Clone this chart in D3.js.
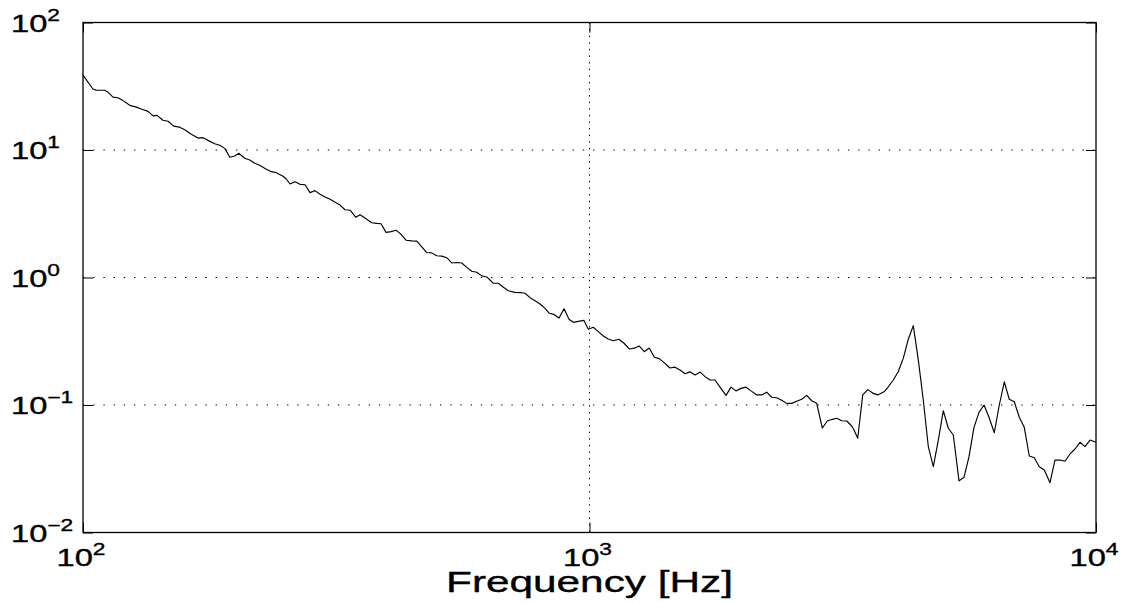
<!DOCTYPE html>
<html>
<head>
<meta charset="utf-8">
<script src="https://cdn.jsdelivr.net/npm/d3@7"></script>
<style>
  body { margin: 0; background: #fff; }
  svg { display: block; }
  text { font-family: "Liberation Sans", Arial, Helvetica, sans-serif; fill: #000; stroke: #000; stroke-width: 0.35; }
</style>
</head>
<body>
<svg id="chart" width="1126" height="604"></svg>
<script>
// Spectrum samples: frequency in Hz and magnitude
const frequency = [
  100, 104.6, 106.2, 110.4, 112.0, 114.6, 117.2, 119.9, 123.7, 127.4,
  130.3, 134.4, 137.5, 140.0, 143.8, 147.2, 151.0, 155.2, 158.8, 163.6,
  168.7, 172.5, 176.5, 182.0, 186.2, 190.5, 194.9, 199.3, 203.2, 208.5,
  213.4, 218.3, 223.3, 230.1, 235.4, 240.8, 248.3, 252.0, 256.3,
  262.2, 268.2, 274.4, 280.7, 287.1, 293.8, 300.6, 307.5, 314.6, 321.7,
  329.1, 336.7, 345.5, 352.3, 360.4, 371.5, 380.1, 387.6, 396.5, 405.6,
  415.0, 422.6, 434.3, 445.7, 456.0, 466.5, 477.2, 488.2, 499.4, 510.9,
  522.6, 534.6, 547.0, 559.5, 572.4, 585.5, 598.9, 612.7, 626.8, 645.7,
  660.6,
  676.0, 691.5, 712.9, 734.9, 746.0, 763.2, 780.7, 798.7, 817.0, 833.2,
  852.3, 870.7, 890.7, 911.2, 929.2, 950.3, 975.3, 994.5, 1017, 1041,
  1065, 1089, 1114, 1143, 1170, 1198, 1226, 1254, 1283, 1312,
  1343, 1373, 1409, 1442, 1475, 1509, 1544, 1579, 1615, 1653,
  1691, 1729, 1769, 1810, 1860, 1903, 1946, 1991, 2037, 2084,
  2139, 2188, 2238, 2290, 2342, 2396, 2451, 2507, 2565, 2624,
  2684, 2746, 2809, 2882, 2948, 3016, 3077, 3148, 3220, 3294,
  3329, 3385, 3463, 3543, 3624, 3707,
  3815, 3890, 3980, 4071, 4165, 4260, 4358, 4459, 4561, 4666,
  4773, 4883, 4995, 5110, 5227, 5365, 5488, 5614, 5743, 5875,
  6010, 6148, 6298, 6443, 6591, 6742, 6897, 7056, 7218, 7384,
  7554, 7727, 7905, 8113, 8299, 8490, 8685, 8885, 9089, 9298,
  9512, 9731, 10000
];

const magnitude = [
  38.7, 30.1, 29.5, 29.4, 28.4, 26.0, 25.7, 24.4, 22.4, 21.7,
  21.0, 20.1, 18.5, 18.7, 17.1, 16.8, 15.4, 15.1, 14.4, 13.3,
  12.4, 12.5, 11.9, 11.2, 10.9, 10.3, 8.77, 8.97, 9.42, 8.61,
  8.35, 7.87, 7.59, 7.06, 6.76, 6.64, 6.22, 5.92, 5.41,
  5.64, 5.38, 5.34, 4.63, 4.80, 4.49, 4.28, 4.11, 3.89, 3.70,
  3.40, 3.37, 2.97, 3.11, 2.93, 2.69, 2.66, 2.64, 2.26, 2.29,
  2.35, 2.22, 1.96, 1.94, 1.93, 1.74, 1.57, 1.56, 1.48, 1.47,
  1.43, 1.30, 1.31, 1.30, 1.20, 1.12, 1.10, 1.03, 1.01, 0.901,
  0.901,
  0.838, 0.788, 0.765, 0.760, 0.752, 0.695, 0.658, 0.620, 0.573, 0.524,
  0.511, 0.481, 0.569, 0.470, 0.445, 0.453, 0.461, 0.393, 0.407, 0.376,
  0.348, 0.329, 0.319, 0.328, 0.305, 0.275, 0.279, 0.290, 0.262, 0.280,
  0.237, 0.231, 0.212, 0.195, 0.198, 0.188, 0.176, 0.182, 0.172, 0.181,
  0.167, 0.157, 0.157, 0.138, 0.119, 0.138, 0.129, 0.135, 0.138, 0.129,
  0.120, 0.120, 0.126, 0.115, 0.114, 0.109, 0.103, 0.103, 0.107, 0.111,
  0.119, 0.108, 0.103, 0.0660, 0.0749, 0.0772, 0.0787, 0.0753, 0.0749, 0.0684,
  0.0637, 0.0548, 0.120, 0.132, 0.124, 0.120,
  0.127, 0.139, 0.157, 0.183, 0.233, 0.328, 0.419, 0.225, 0.109, 0.0471,
  0.0328, 0.0531, 0.0902, 0.0657, 0.0582, 0.0254, 0.0271, 0.0393, 0.0668, 0.0876,
  0.100, 0.0801, 0.0606, 0.100, 0.152, 0.111, 0.106, 0.0801, 0.0668, 0.0398,
  0.0386, 0.0328, 0.0309, 0.0246, 0.0370, 0.0370, 0.0362, 0.0413, 0.0452, 0.0510,
  0.0471, 0.0531, 0.0510
];

// Decade exponents used for ticks, labels and grid lines
const xTickExponents = [2, 3, 4];
const yTickExponents = [-2, -1, 0, 1, 2];
const xGridExponents = [3];
const yGridExponents = [-1, 0, 1];
const xAxisTitle = "Frequency [Hz]";

const svg = d3.select("#chart");
const plot = { left: 83, top: 22.5, right: 1096, bottom: 532.5 };

const x = d3.scaleLog().domain([1e2, 1e4]).range([plot.left, plot.right]);
const y = d3.scaleLog().domain([1e-2, 1e2]).range([plot.bottom, plot.top]);

// text in this figure is drawn horizontally stretched
const STRETCH = 1.42;

// dotted grid
const grid = svg.append("g").attr("class", "grid");
grid.selectAll("line.h")
  .data(yGridExponents.map(e => Math.pow(10, e)))
  .join("line")
  .attr("x1", plot.left).attr("x2", plot.right)
  .attr("y1", d => y(d)).attr("y2", d => y(d))
  .attr("stroke", "#000").attr("stroke-width", 1)
  .attr("stroke-dasharray", "1.4 8.8");
grid.selectAll("line.v")
  .data(xGridExponents.map(e => Math.pow(10, e)))
  .join("line")
  .attr("y1", plot.top).attr("y2", plot.bottom)
  .attr("x1", d => x(d)).attr("x2", d => x(d))
  .attr("stroke", "#000").attr("stroke-width", 1)
  .attr("stroke-dasharray", "1.4 5.2");

// data line
const line = d3.line()
  .x(d => x(d[0]))
  .y(d => y(d[1]));
svg.append("path")
  .datum(d3.zip(frequency, magnitude))
  .attr("fill", "none")
  .attr("stroke", "#000")
  .attr("stroke-width", 1.15)
  .attr("stroke-linejoin", "round")
  .attr("d", line);

// axes: inward major ticks on all four sides, labels drawn separately
const major = 10;
function styleAxis(g) {
  g.select(".domain").remove();
  g.selectAll(".tick line").attr("stroke", "#000").attr("stroke-width", 1);
  g.selectAll(".tick text").remove();
}
const xMajor = xTickExponents.map(e => Math.pow(10, e));
const yMajor = yTickExponents.map(e => Math.pow(10, e));

[[d3.axisBottom, plot.bottom], [d3.axisTop, plot.top]].forEach(([ax, pos]) => {
  svg.append("g").attr("transform", `translate(0,${pos})`)
    .call(ax(x).tickValues(xMajor).tickSize(-major).tickFormat("")).call(styleAxis);
});
[[d3.axisLeft, plot.left], [d3.axisRight, plot.right]].forEach(([ax, pos]) => {
  svg.append("g").attr("transform", `translate(${pos},0)`)
    .call(ax(y).tickValues(yMajor).tickSize(-major).tickFormat("")).call(styleAxis);
});

// frame
svg.append("rect")
  .attr("x", plot.left).attr("y", plot.top)
  .attr("width", plot.right - plot.left).attr("height", plot.bottom - plot.top)
  .attr("fill", "none").attr("stroke", "#000").attr("stroke-width", 1.3);

// power-of-ten tick labels
function powerLabel(sel, e) {
  sel.append("tspan").attr("font-size", 23).text("10");
  sel.append("tspan").attr("font-size", 16).attr("dy", -11)
    .text(e < 0 ? "\u2212" + Math.abs(e) : String(e));
}

svg.append("g").selectAll("text")
  .data(xTickExponents)
  .join("text")
  .attr("text-anchor", "middle")
  .attr("transform", e => `translate(${x(Math.pow(10, e)) - 2},566) scale(${STRETCH},1)`)
  .each(function (e) { powerLabel(d3.select(this), e); });

svg.append("g").selectAll("text")
  .data(yTickExponents)
  .join("text")
  .attr("text-anchor", "start")
  .attr("transform", e => `translate(11,${y(Math.pow(10, e)) + 9}) scale(${STRETCH},1)`)
  .each(function (e) { powerLabel(d3.select(this), e); });

// axis title
svg.append("text")
  .attr("text-anchor", "middle")
  .attr("transform", `translate(${x(1000)},592) scale(${STRETCH + 0.04},1)`)
  .attr("font-size", 29)
  .text(xAxisTitle);
</script>
</body>
</html>
